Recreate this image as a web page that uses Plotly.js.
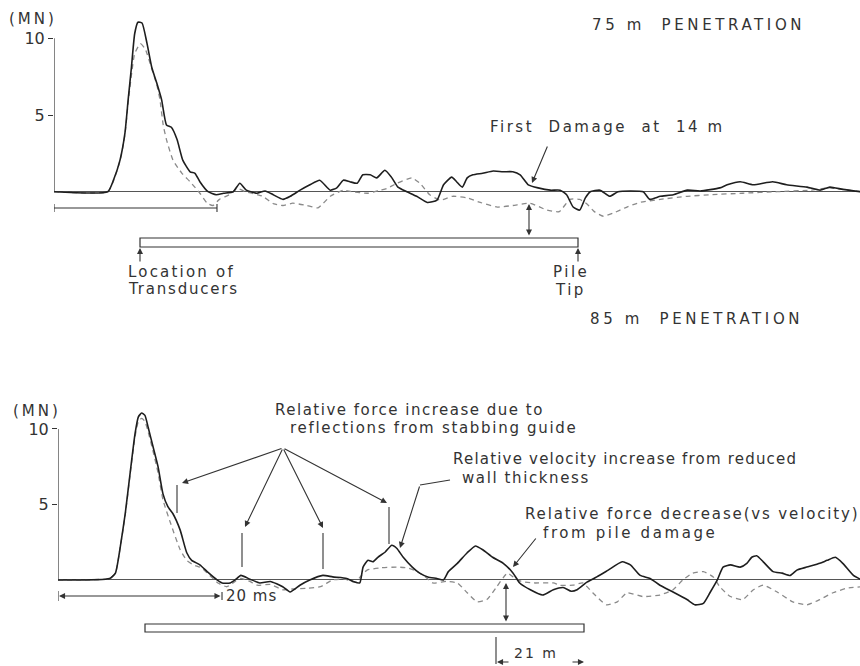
<!DOCTYPE html>
<html><head><meta charset="utf-8">
<script src="https://cdn.plot.ly/plotly-3.0.1.min.js"></script>
<style>html,body{margin:0;padding:0;background:#fff}#chart{width:860px;height:666px}</style>
</head><body><div id="chart"></div>
<script>
// ---- 75 m penetration (top record), time in ms, values in MN ----
const tTopForce = [0,6.6,7.3,8.1,8.7,9.1,9.5,9.9,10.3,10.8,11.4,12.0,12.6,13.2,13.8,14.4,15.1,15.8,16.7,17.3,17.9,18.9,19.9,20.8,22.0,22.8,23.6,24.9,25.9,26.9,28.1,29.0,30.2,31.4,32.6,33.9,34.7,35.5,36.3,37.2,37.9,38.8,39.6,40.6,41.4,42.2,43.3,44.5,45.8,47.0,47.8,48.8,49.4,50.1,50.7,51.4,52.6,53.9,55.1,56.3,57.2,58.2,59.4,60.9,62.1,62.9,63.7,64.5,65.2,65.8,67.0,68.2,69.2,70.7,72.3,73.1,74.4,76.0,77.7,79.3,81.7,82.6,84.2,85.8,88.2,89.9,92.4,94.0,95.2,96.8,99];
const topForce  = [0,0,0.76,2.06,3.8,6.0,8.1,10.3,11.05,11.0,9.7,8.1,7.1,6.0,4.35,4.2,3.4,2.06,1.3,1.2,0.65,0,-0.2,-0.1,0,0.55,0.1,-0.1,0.05,-0.2,-0.5,-0.3,0.1,0.45,0.75,0.1,0.25,0.75,0.65,0.55,1.1,1.1,0.9,1.4,0.95,0.3,0,-0.3,-0.7,-0.55,0.45,0.95,0.65,0.3,0.9,1.1,1.2,1.35,1.3,1.3,1.1,0.45,0.25,0.1,0.1,-0.2,-1.0,-1.2,-0.4,0,0.1,-0.3,0,0.05,0,-0.5,-0.3,-0.2,0.1,0.05,0.25,0.45,0.65,0.45,0.65,0.45,0.3,0.1,0.3,0.15,0];
const tTopVel   = [0,6.6,7.3,8.1,8.7,9.1,9.5,9.9,10.6,11.2,12.0,12.6,13.0,13.4,13.8,14.6,15.7,16.7,17.9,18.8,19.5,20.3,21.5,22.5,23.5,25.0,25.6,27.0,28.1,29.3,31.0,32.4,33.9,35.5,36.5,38.5,40.0,40.8,42.1,43.9,44.9,46.1,47.4,48.9,50.7,52.3,54.4,56.3,58.4,60.5,62.0,63.3,64.5,65.4,66.3,67.4,68.6,70.3,71.9,74.4,77.7,80.5,84.5,88.7,92.8,95.2,96.8,99];
const topVel    = [0,0,0.7,2.0,3.7,5.8,7.6,9.0,9.65,9.3,8.0,7.0,6.0,4.35,3.4,2.06,1.2,0.65,-0.1,-0.75,-0.9,-0.5,-0.2,0.2,0,-0.2,-0.3,-0.8,-0.9,-0.75,-0.9,-1.05,-0.3,0.1,0,-0.1,0.1,0.2,0.55,0.9,0.55,-0.2,-0.55,-0.3,-0.4,-0.7,-1.0,-0.9,-0.75,-1.2,-1.3,-0.5,-0.5,-0.8,-1.3,-1.6,-1.4,-1.0,-0.7,-0.5,-0.3,-0.2,-0.1,0,0.1,0.25,0.15,0];

// ---- 85 m penetration (bottom record) ----
const tBotForce = [0,6.3,7.0,7.6,8.2,8.8,9.4,9.8,10.2,10.6,11.0,11.6,12.2,12.8,13.4,14.0,14.9,15.7,16.3,17.3,18.3,19.4,20.0,21.0,21.6,22.3,23.4,24.6,25.9,27.4,28.3,29.5,30.7,32.3,33.5,35.2,36.0,36.8,37.2,37.8,38.4,39.0,39.9,40.7,41.3,42.1,43.2,44.1,45.1,46.2,47.0,47.6,48.7,49.9,50.9,51.8,53.0,54.3,55.5,56.3,57.6,59.1,60.4,61.6,62.6,63.3,64.5,65.7,67.1,68.8,69.8,71.0,72.2,73.4,75.0,76.7,77.7,78.7,79.5,80.4,81.1,82.0,83.2,84.0,84.6,85.2,86.0,87.2,88.3,89.3,90.1,91.3,92.9,93.8,94.8,95.7,97.0,98];
const botForce  = [0,0.1,0.45,2.2,4.4,7.1,9.7,10.8,11.05,10.9,10.1,8.8,7.5,5.7,4.85,4.4,3.3,1.8,1.3,1.0,0.5,0,-0.2,-0.2,0,0.3,0.05,-0.2,-0.1,-0.45,-0.8,-0.35,0,0.3,0.2,0.1,-0.1,-0.2,0.85,1.3,1.2,1.5,1.85,2.3,2.1,1.5,0.85,0.45,0.2,0.1,0,0.55,1.1,1.8,2.25,2.0,1.5,1.1,0.45,-0.2,-0.65,-1.0,-0.65,-0.5,-0.75,-0.65,-0.15,0.2,0.65,1.2,1.0,0.3,0.1,-0.35,-0.8,-1.3,-1.65,-1.55,-0.85,0,0.85,1.0,0.85,1.1,1.5,1.6,1.2,0.55,0.45,0.3,0.65,0.85,1.1,1.3,1.5,1.1,0.3,0];
const tBotVel   = [0,6.3,7.0,7.6,8.2,8.8,9.4,9.8,10.2,10.6,11.0,11.6,12.2,12.8,13.7,14.9,15.7,16.5,17.5,18.5,19.5,20.6,21.6,22.3,23.4,24.3,25.9,27.4,28.5,30.4,32.0,33.5,35.0,36.3,37.0,37.7,39.3,41.3,42.6,43.8,44.8,45.7,47.4,48.7,49.9,51.1,52.3,53.5,54.8,55.5,56.5,58.0,60.4,61.2,62.8,64.0,65.2,66.9,68.2,69.4,71.3,73.4,75.0,76.2,77.4,78.7,79.9,80.7,82.0,83.5,84.8,86.0,87.7,89.6,91.3,92.9,94.5,96.2,98];
const botVel    = [0,0.1,0.45,2.2,4.3,7.0,9.5,10.5,10.7,10.5,9.8,8.5,7.1,5.3,3.8,2.0,1.3,1.0,0.8,0.3,-0.2,-0.45,-0.1,0.1,-0.1,-0.35,-0.3,-0.65,-0.6,-0.55,-0.45,0,0.05,-0.15,0.3,0.65,0.8,0.85,0.8,0.55,0.2,-0.2,-0.1,-0.2,-0.85,-1.45,-1.3,-0.45,0.45,0.2,-0.1,-0.2,-0.2,-0.35,-0.35,-0.2,-0.85,-1.65,-1.45,-0.85,-1.1,-1.0,-0.65,0,0.45,0.55,0.2,-0.45,-1.1,-1.3,-0.65,-0.35,-0.8,-1.45,-1.65,-1.3,-0.85,-0.55,-0.45];

const yTickVals = [5,10];
const yTickText = ['5','10'];

const W = 860, H = 666;
const px = x => x / W, py = y => 1 - y / H;
const INK = '#333';
const FONT = 'DejaVu Sans';

const solid = {color:'#1e1e1e', width:1.6, shape:'spline', smoothing:0.5};
const dashed = {color:'#8a8a8a', width:1.3, dash:'5px,4px', shape:'spline', smoothing:0.5};

const traces = [
  {x:tTopVel, y:topVel, xaxis:'x', yaxis:'y', mode:'lines', line:dashed, hoverinfo:'skip'},
  {x:tTopForce, y:topForce, xaxis:'x', yaxis:'y', mode:'lines', line:solid, hoverinfo:'skip'},
  {x:tBotVel, y:botVel, xaxis:'x2', yaxis:'y2', mode:'lines', line:dashed, hoverinfo:'skip'},
  {x:tBotForce, y:botForce, xaxis:'x2', yaxis:'y2', mode:'lines', line:solid, hoverinfo:'skip'}
];

function seg(x0,y0,x1,y1,w){return {type:'line',xref:'paper',yref:'paper',x0:px(x0),y0:py(y0),x1:px(x1),y1:py(y1),line:{color:INK,width:w||1.1}};}
function arrow(tx,ty,sx,sy,both){
  return {xref:'paper',yref:'paper',x:px(tx),y:py(ty),ax:sx-tx,ay:sy-ty,axref:'pixel',ayref:'pixel',
    text:'',showarrow:true,arrowhead:2,arrowsize:1.1,arrowwidth:1.1,arrowcolor:INK,
    arrowside: both ? 'end+start' : 'end', startarrowhead:2, startarrowsize:1.1};
}
function txt(s,x,y,ls,size){
  return {xref:'paper',yref:'paper',x:px(x),y:py(y),xanchor:'left',yanchor:'middle',showarrow:false,
    text:'<span style="letter-spacing:'+ls+'px">'+s+'</span>',font:{family:FONT,size:size||15,color:INK}};
}
const S = '\u00a0';

const shapes = [
  // y axis lines
  {type:'line',xref:'x',yref:'y',x0:0,x1:0,y0:0,y1:10,line:{color:INK,width:1.2}},
  {type:'line',xref:'x2',yref:'y2',x0:0,x1:0,y0:0,y1:10,line:{color:INK,width:1.2}},
  // top 20 ms bracket
  {type:'line',xref:'x',yref:'paper',x0:0,x1:20,y0:py(208),y1:py(208),line:{color:INK,width:1.1}},
  {type:'line',xref:'x',yref:'paper',x0:0,x1:0,y0:py(204),y1:py(212),line:{color:INK,width:1.1}},
  {type:'line',xref:'x',yref:'paper',x0:20,x1:20,y0:py(204),y1:py(212),line:{color:INK,width:1.1}},
  // bottom 20 ms bracket ends
  {type:'line',xref:'x2',yref:'paper',x0:0,x1:0,y0:py(591),y1:py(601),line:{color:INK,width:1.1}},
  {type:'line',xref:'x2',yref:'paper',x0:20,x1:20,y0:py(592),y1:py(600),line:{color:INK,width:1.1}},
  // pile bars
  {type:'rect',xref:'paper',yref:'paper',x0:px(140),x1:px(578),y0:py(238),y1:py(247),line:{color:INK,width:1.2},fillcolor:'#fff'},
  {type:'rect',xref:'paper',yref:'paper',x0:px(145),x1:px(584),y0:py(624),y1:py(632),line:{color:INK,width:1.2},fillcolor:'#fff'},
  // reflection marks
  seg(177,485,177,513), seg(242,533,242,567), seg(323,533,323,569), seg(389,507,389,544),
  // wall thickness leader
  seg(450,480,420,485),
  // 21 m extension line
  seg(496,637,496,664)
];

const annotations = [
  txt('(MN)', 7, 19, 3, 15),
  txt('75 m'+S+S+'PENETRATION', 590, 25, 3.6, 15),
  txt('First'+S+' Damage'+S+' at'+S+' 14 m', 488, 127, 2.5, 15),
  txt('Location of', 126, 272, 2.2, 15),
  txt('Transducers', 126, 289, 1.8, 15),
  txt('Pile', 551, 272, 2.5, 15),
  txt('Tip', 553, 290, 2.5, 15),
  txt('85 m'+S+S+'PENETRATION', 588, 319, 3.6, 15),
  txt('(MN)', 11, 411, 3, 15),
  txt('Relative force increase due to', 273, 410, 1.5, 15),
  txt('reflections from stabbing guide', 288, 428, 1.7, 15),
  txt('Relative velocity increase from reduced', 451, 459, 1.2, 15),
  txt('wall thickness', 460, 478, 1.6, 15),
  txt('Relative force decrease(vs velocity)', 523, 514, 1.85, 15),
  txt('from pile damage', 541, 533, 2.6, 15),
  txt('20 ms', 224, 596, 1, 15),
  txt('21 m', 512, 653, 2, 14),
  // arrows
  arrow(532,183,548,145),
  arrow(529,204,529,237,true),
  arrow(140,248,140,263),
  arrow(578,248,578,263),
  arrow(182,483,283,448),
  arrow(245,527,283,448),
  arrow(323,528,283,448),
  arrow(387,503,283,448),
  arrow(400,548,420,485),
  arrow(513,567,537,537),
  arrow(506,583,506,623,true),
  arrow(59,596,222,596,true),
  arrow(497,662,510,662),
  arrow(584,662,571,662)
];

const yBase = {tickvals:yTickVals, ticktext:yTickText, ticks:'outside', ticklen:5, tickwidth:1, tickcolor:INK,
  showgrid:false, showline:false, zeroline:true, zerolinecolor:'#555', zerolinewidth:1,
  tickfont:{family:FONT,size:16,color:INK}, fixedrange:true};

const layout = {
  width:W, height:H, margin:{l:0,r:0,t:0,b:0}, showlegend:false,
  paper_bgcolor:'#fff', plot_bgcolor:'rgba(0,0,0,0)',
  xaxis:{domain:[54/W,1], range:[0,98.9], visible:false, anchor:'y', fixedrange:true},
  yaxis:Object.assign({domain:[0.4895,1], range:[-9.67,12.5], anchor:'x'}, yBase),
  xaxis2:{domain:[58/W,1], range:[0,97.8], visible:false, anchor:'y2', fixedrange:true},
  yaxis2:Object.assign({domain:[0,0.4895], range:[-5.70,15.89], anchor:'x2'}, yBase),
  shapes:shapes, annotations:annotations
};

Plotly.newPlot('chart', traces, layout, {staticPlot:true, displayModeBar:false});
</script></body></html>
